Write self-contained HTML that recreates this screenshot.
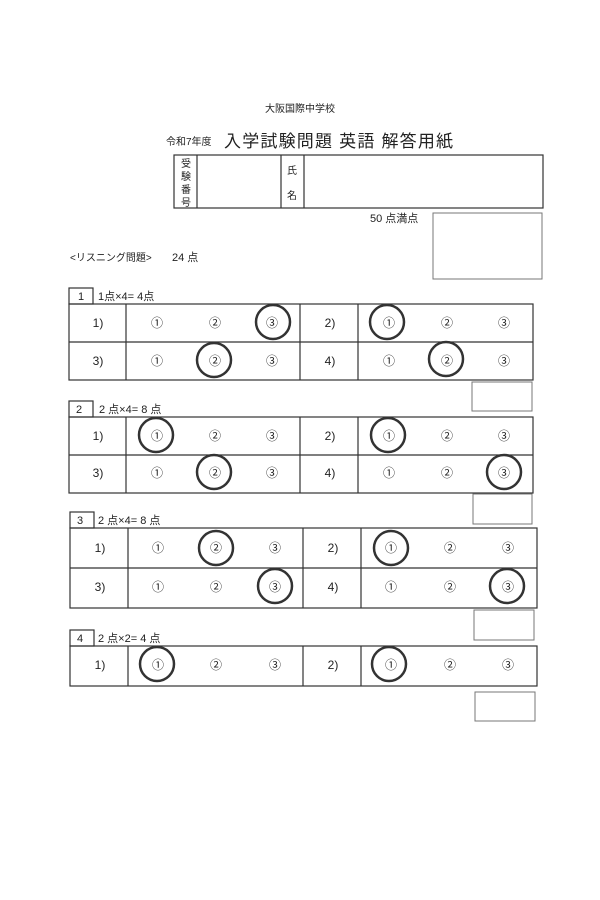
<!DOCTYPE html>
<html><head><meta charset="utf-8"><style>
html,body{margin:0;padding:0;background:#fff;}
svg{display:block;}
text{font-family:"Liberation Sans","Noto Sans CJK JP",sans-serif;fill:#222;}
</style></head><body>
<svg width="600" height="900" viewBox="0 0 600 900" xmlns="http://www.w3.org/2000/svg">
<rect width="600" height="900" fill="#fff"/>
<text x="300" y="112" font-size="10" text-anchor="middle">大阪国際中学校</text>
<text x="166" y="145" font-size="10">令和7年度</text>
<text x="224" y="147" font-size="17" letter-spacing="1.2">入学試験問題 英語 解答用紙</text>
<g stroke="#333" fill="none" stroke-width="1.2">
<rect x="174" y="155" width="369" height="53"/>
<line x1="197" y1="155" x2="197" y2="208"/>
<line x1="281" y1="155" x2="281" y2="208"/>
<line x1="304" y1="155" x2="304" y2="208"/>
</g>
<g font-size="10" text-anchor="middle">
<text x="186" y="167">受</text><text x="186" y="180">験</text><text x="186" y="193">番</text><text x="186" y="206">号</text>
<text x="292" y="174">氏</text><text x="292" y="199">名</text>
</g>
<text x="370" y="222" font-size="11">50 点満点</text>
<rect x="433" y="213" width="109" height="66" fill="none" stroke="#777" stroke-width="1"/>
<text x="70" y="261" font-size="10">&lt;リスニング問題&gt;</text>
<text x="172" y="261" font-size="11">24 点</text>

<!-- Section 1 -->
<g stroke="#333" fill="none" stroke-width="1.2">
<rect x="69" y="288" width="24" height="16"/>
<rect x="69" y="304" width="464" height="76"/>
<line x1="69" y1="342" x2="533" y2="342"/>
<line x1="126" y1="304" x2="126" y2="380"/><line x1="300" y1="304" x2="300" y2="380"/><line x1="358" y1="304" x2="358" y2="380"/>
</g>
<rect x="472" y="382" width="60" height="29" fill="none" stroke="#777"/>
<text x="78" y="300" font-size="11">1</text>
<text x="98" y="300" font-size="11">1点×4= 4点</text>
<g font-size="12" text-anchor="middle">
<text x="98" y="327">1)</text><text x="157" y="327">①</text><text x="215" y="327">②</text><text x="272" y="327">③</text>
<text x="330" y="327">2)</text><text x="389" y="327">①</text><text x="447" y="327">②</text><text x="504" y="327">③</text>
<text x="98" y="365">3)</text><text x="157" y="365">①</text><text x="215" y="365">②</text><text x="272" y="365">③</text>
<text x="330" y="365">4)</text><text x="389" y="365">①</text><text x="447" y="365">②</text><text x="504" y="365">③</text>
</g>
<g fill="none" stroke="#333" stroke-width="2.5">
<circle cx="273" cy="322" r="17"/><circle cx="387" cy="322" r="17"/>
<circle cx="214" cy="360" r="17"/><circle cx="446" cy="359" r="17"/>
</g>

<!-- Section 2 -->
<g stroke="#333" fill="none" stroke-width="1.2">
<rect x="69" y="401" width="24" height="16"/>
<rect x="69" y="417" width="464" height="76"/>
<line x1="69" y1="455" x2="533" y2="455"/>
<line x1="126" y1="417" x2="126" y2="493"/><line x1="300" y1="417" x2="300" y2="493"/><line x1="358" y1="417" x2="358" y2="493"/>
</g>
<rect x="473" y="494" width="59" height="30" fill="none" stroke="#777"/>
<text x="76" y="413" font-size="11">2</text>
<text x="99" y="413" font-size="11">2 点×4= 8 点</text>
<g font-size="12" text-anchor="middle">
<text x="98" y="440">1)</text><text x="157" y="440">①</text><text x="215" y="440">②</text><text x="272" y="440">③</text>
<text x="330" y="440">2)</text><text x="389" y="440">①</text><text x="447" y="440">②</text><text x="504" y="440">③</text>
<text x="98" y="477">3)</text><text x="157" y="477">①</text><text x="215" y="477">②</text><text x="272" y="477">③</text>
<text x="330" y="477">4)</text><text x="389" y="477">①</text><text x="447" y="477">②</text><text x="504" y="477">③</text>
</g>
<g fill="none" stroke="#333" stroke-width="2.5">
<circle cx="156" cy="435" r="17"/><circle cx="388" cy="435" r="17"/>
<circle cx="214" cy="472" r="17"/><circle cx="504" cy="472" r="17"/>
</g>

<!-- Section 3 -->
<g stroke="#333" fill="none" stroke-width="1.2">
<rect x="70" y="512" width="24" height="16"/>
<rect x="70" y="528" width="467" height="80"/>
<line x1="70" y1="568" x2="537" y2="568"/>
<line x1="128" y1="528" x2="128" y2="608"/><line x1="303" y1="528" x2="303" y2="608"/><line x1="361" y1="528" x2="361" y2="608"/>
</g>
<rect x="474" y="610" width="60" height="30" fill="none" stroke="#777"/>
<text x="77" y="524" font-size="11">3</text>
<text x="98" y="524" font-size="11">2 点×4= 8 点</text>
<g font-size="12" text-anchor="middle">
<text x="100" y="552">1)</text><text x="158" y="552">①</text><text x="216" y="552">②</text><text x="275" y="552">③</text>
<text x="333" y="552">2)</text><text x="391" y="552">①</text><text x="450" y="552">②</text><text x="508" y="552">③</text>
<text x="100" y="591">3)</text><text x="158" y="591">①</text><text x="216" y="591">②</text><text x="275" y="591">③</text>
<text x="333" y="591">4)</text><text x="391" y="591">①</text><text x="450" y="591">②</text><text x="508" y="591">③</text>
</g>
<g fill="none" stroke="#333" stroke-width="2.5">
<circle cx="216" cy="548" r="17"/><circle cx="391" cy="548" r="17"/>
<circle cx="275" cy="586" r="17"/><circle cx="507" cy="586" r="17"/>
</g>

<!-- Section 4 -->
<g stroke="#333" fill="none" stroke-width="1.2">
<rect x="70" y="630" width="24" height="16"/>
<rect x="70" y="646" width="467" height="40"/>
<line x1="128" y1="646" x2="128" y2="686"/><line x1="303" y1="646" x2="303" y2="686"/><line x1="361" y1="646" x2="361" y2="686"/>
</g>
<rect x="475" y="692" width="60" height="29" fill="none" stroke="#777"/>
<text x="77" y="642" font-size="11">4</text>
<text x="98" y="642" font-size="11">2 点×2= 4 点</text>
<g font-size="12" text-anchor="middle">
<text x="100" y="669">1)</text><text x="158" y="669">①</text><text x="216" y="669">②</text><text x="275" y="669">③</text>
<text x="333" y="669">2)</text><text x="391" y="669">①</text><text x="450" y="669">②</text><text x="508" y="669">③</text>
</g>
<g fill="none" stroke="#333" stroke-width="2.5">
<circle cx="157" cy="664" r="17"/><circle cx="389" cy="664" r="17"/>
</g>
</svg>
</body></html>
